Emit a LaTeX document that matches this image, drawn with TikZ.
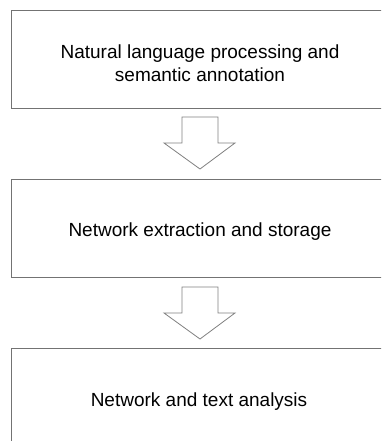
\documentclass[tikz,border=0pt]{standalone}
\usepackage{fontspec}
\setmainfont{Liberation Sans}
\begin{document}
\begin{tikzpicture}[x=1pt,y=-1pt,
  stagebox/.style={draw=black!55, line width=0.9pt, fill=white},
  stagetext/.style={font=\fontsize{19}{22.5}\selectfont, align=center, text=black, inner sep=0pt},
  blockarrow/.style={draw=black!50, line width=0.8pt, fill=white, line join=miter}]
\useasboundingbox (0,0) rectangle (381,441);
\clip (0,0) rectangle (381,441);
% three stage boxes (they run past the right and lower edges)
\draw[stagebox] (11,10) rectangle (400,108);
\draw[stagebox] (11,179) rectangle (400,277);
\draw[stagebox] (11,348) rectangle (400,460);
\node[stagetext] (s1) at (200,63) {Natural language processing and\\semantic annotation};
\node[stagetext] (s2) at (200,231.5) {Network extraction and storage};
\node[stagetext] (s3) at (199,401.5) {Network and text analysis};
% hollow block arrows between stages
\draw[blockarrow] (182,117) -- (218,117) -- (218,143) -- (235,143) -- (200,169)
  -- (164,143) -- (182,143) -- cycle;
\draw[blockarrow] (182,287) -- (218,287) -- (218,313) -- (235,313) -- (200,339)
  -- (164,313) -- (182,313) -- cycle;
\end{tikzpicture}
\end{document}
